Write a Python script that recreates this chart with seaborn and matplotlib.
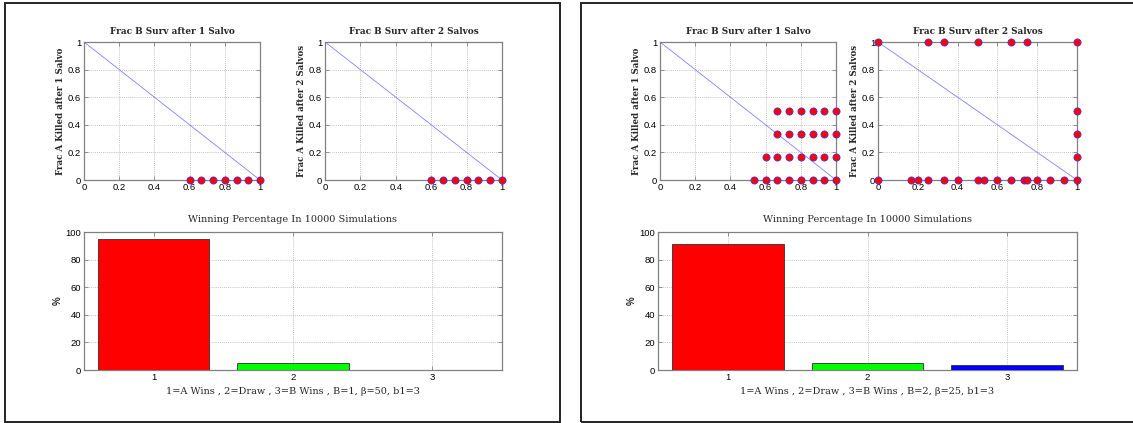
import matplotlib
matplotlib.use("Agg")
import matplotlib.pyplot as plt
from matplotlib.patches import Rectangle
from matplotlib.ticker import FormatStrFormatter
import seaborn as sns
import pandas as pd

# ---------------- data ----------------
diag_x = [0.0, 1.0]
diag_y = [1.0, 0.0]

# left case (B=1, beta=50, b1=3)
L_s1_x = [0.6, 0.6667, 0.7333, 0.8, 0.8667, 0.9333, 1.0]
L_s1_y = [0, 0, 0, 0, 0, 0, 0]
L_s2_x = [0.6, 0.6667, 0.7333, 0.8, 0.8667, 0.9333, 1.0]
L_s2_y = [0, 0, 0, 0, 0, 0, 0]
L_win = [95.0, 5.0, 0.0]
L_xlabel = "1=A Wins , 2=Draw , 3=B Wins , B=1, β=50, b1=3"

# right case (B=2, beta=25, b1=3)
R_s1_x = [0.5333, 0.6, 0.6667, 0.7333, 0.8, 0.8667, 0.9333, 1.0,
          0.6, 0.6667, 0.7333, 0.8, 0.8667, 0.9333, 1.0,
          0.6667, 0.7333, 0.8, 0.8667, 0.9333, 1.0,
          0.6667, 0.7333, 0.8, 0.8667, 0.9333, 1.0]
R_s1_y = [0, 0, 0, 0, 0, 0, 0, 0,
          0.1667, 0.1667, 0.1667, 0.1667, 0.1667, 0.1667, 0.1667,
          0.3333, 0.3333, 0.3333, 0.3333, 0.3333, 0.3333,
          0.5, 0.5, 0.5, 0.5, 0.5, 0.5]
R_s2_x = [0.0, 0.25, 0.3333, 0.5, 0.6667, 0.75, 1.0,
          1.0, 1.0, 1.0,
          0.0, 0.1667, 0.2, 0.25, 0.3333, 0.4, 0.5, 0.5333, 0.6, 0.6667,
          0.7333, 0.75, 0.8, 0.8667, 0.9333, 1.0]
R_s2_y = [1, 1, 1, 1, 1, 1, 1,
          0.5, 0.3333, 0.1667,
          0, 0, 0, 0, 0, 0, 0, 0, 0, 0,
          0, 0, 0, 0, 0, 0]
R_win = [91.5, 5.0, 3.5]
R_xlabel = "1=A Wins , 2=Draw , 3=B Wins , B=2, β=25, b1=3"

outcomes = ["1", "2", "3"]
bar_colors = ["#ff0000", "#00ff00", "#0000ff"]
unit_ticks = [0, 0.2, 0.4, 0.6, 0.8, 1.0]
pct_ticks = [0, 20, 40, 60, 80, 100]

t1 = "Frac B Surv after 1 Salvo"
t2 = "Frac B Surv after 2 Salvos"
y1 = "Frac A Killed after 1 Salvo"
y2 = "Frac A Killed after 2 Salvos"
bar_title = "Winning Percentage In 10000 Simulations"

# ---------------- style ----------------
sns.set_style("white")
plt.rcParams["font.family"] = ["Liberation Sans", "DejaVu Sans"]
SERIF = ["DejaVu Serif"]

W, H = 1133, 423
fig = plt.figure(figsize=(W / 100, H / 100), dpi=100)


def ax_at(x0, x1, y0, y1):
    return fig.add_axes([x0 / W, 1 - y1 / H, (x1 - x0) / W, (y1 - y0) / H])


def matlab_style(ax):
    for s in ax.spines.values():
        s.set_color("#808080")
        s.set_linewidth(0.9)
        s.set_visible(True)
    ax.tick_params(direction="in", length=3, width=0.6, color="#808080",
                   labelsize=6.8, labelcolor="black", pad=2,
                   top=True, right=True, bottom=True, left=True)
    ax.grid(True, linestyle=(0, (1, 1.5)), color="#b0b0b0", linewidth=0.6)
    ax.set_axisbelow(True)


def scatter_panel(ax, xs, ys, title, ylabel):
    sns.lineplot(x=diag_x, y=diag_y, ax=ax, color="#8080ff", linewidth=0.6,
                 zorder=2)
    sns.scatterplot(x=xs, y=ys, ax=ax, color="red", edgecolor="#3030ff",
                    s=27, linewidth=0.5, zorder=3, clip_on=False)
    ax.set_xlim(0, 1)
    ax.set_ylim(0, 1)
    ax.set_xticks(unit_ticks)
    ax.set_yticks(unit_ticks)
    ax.xaxis.set_major_formatter(FormatStrFormatter("%g"))
    ax.yaxis.set_major_formatter(FormatStrFormatter("%g"))
    matlab_style(ax)
    ax.set_title(title, family=SERIF, fontweight="bold", fontsize=6.4, pad=6)
    ax.set_ylabel(ylabel, family=SERIF, fontweight="bold", fontsize=6.2,
                  labelpad=2)


def bar_panel(ax, vals, xlabel):
    df = pd.DataFrame({"outcome": outcomes, "pct": vals})
    sns.barplot(data=df, x="outcome", y="pct", hue="outcome",
                palette=bar_colors, saturation=1, legend=False, ax=ax,
                width=0.8, edgecolor="#303030", linewidth=0.6, zorder=3)
    ax.set_xlim(-0.5, 2.5)
    ax.set_ylim(0, 100)
    ax.set_yticks(pct_ticks)
    matlab_style(ax)
    ax.set_title(bar_title, family=SERIF, fontsize=7, pad=7)
    ax.set_xlabel(xlabel, family=SERIF, fontsize=7, labelpad=4)
    ax.set_ylabel("%", fontweight="bold", fontsize=7, labelpad=2)


# panel borders
fig.patches.append(Rectangle((5 / W, 1 - 422 / H), 555 / W, 419 / H,
                             transform=fig.transFigure, fill=False,
                             edgecolor="#222222", linewidth=1.4))
fig.patches.append(Rectangle((581 / W, 1 - 422 / H), 600 / W, 419 / H,
                             transform=fig.transFigure, fill=False,
                             edgecolor="#222222", linewidth=1.4))

# left panel
scatter_panel(ax_at(84, 260, 42, 180), L_s1_x, L_s1_y, t1, y1)
scatter_panel(ax_at(325, 502, 42, 180), L_s2_x, L_s2_y, t2, y2)
bar_panel(ax_at(84, 502, 232, 370), L_win, L_xlabel)

# right panel
scatter_panel(ax_at(660, 836, 42, 180), R_s1_x, R_s1_y, t1, y1)
scatter_panel(ax_at(878, 1077, 42, 180), R_s2_x, R_s2_y, t2, y2)
bar_panel(ax_at(658, 1077, 232, 370), R_win, R_xlabel)

fig.savefig("out.png", dpi=100)
